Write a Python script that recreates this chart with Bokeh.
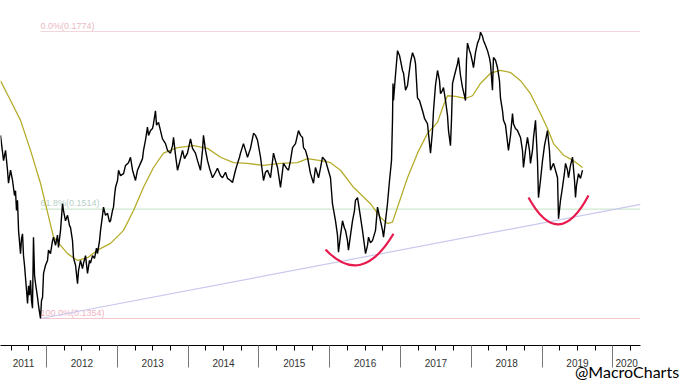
from bokeh.plotting import figure
from bokeh.models import (Range1d, LinearAxis, FixedTicker, CustomJSTickFormatter,
                          ColumnDataSource)
from bokeh.embed import file_html
from bokeh.resources import INLINE

# ---------------- data ----------------
years = list(range(2011, 2021))

price_t = [2011.350, 2011.393, 2011.421, 2011.449, 2011.463, 2011.492, 2011.520, 2011.548, 2011.562, 2011.576,
           2011.590, 2011.605, 2011.633, 2011.647, 2011.661, 2011.675, 2011.689, 2011.718, 2011.732, 2011.746,
           2011.760, 2011.774, 2011.788, 2011.802, 2011.816, 2011.831, 2011.845, 2011.859, 2011.873, 2011.887,
           2011.915, 2011.929, 2011.944, 2011.958, 2011.986, 2012.014, 2012.028, 2012.056, 2012.085, 2012.099,
           2012.127, 2012.155, 2012.169, 2012.198, 2012.226, 2012.240, 2012.268, 2012.297, 2012.325, 2012.339,
           2012.367, 2012.381, 2012.410, 2012.438, 2012.452, 2012.480, 2012.508, 2012.523, 2012.551, 2012.579,
           2012.607, 2012.621, 2012.650, 2012.678, 2012.706, 2012.720, 2012.749, 2012.763, 2012.791, 2012.805,
           2012.833, 2012.862, 2012.890, 2012.904, 2012.932, 2012.946, 2012.961, 2012.975, 2013.003, 2013.017,
           2013.045, 2013.088, 2013.116, 2013.158, 2013.186, 2013.215, 2013.257, 2013.285, 2013.327, 2013.356,
           2013.370, 2013.398, 2013.426, 2013.441, 2013.469, 2013.497, 2013.511, 2013.539, 2013.554, 2013.582,
           2013.610, 2013.638, 2013.681, 2013.709, 2013.751, 2013.780, 2013.794, 2013.822, 2013.850, 2013.878,
           2013.921, 2013.949, 2013.991, 2014.034, 2014.062, 2014.104, 2014.133, 2014.175, 2014.203, 2014.217,
           2014.246, 2014.274, 2014.302, 2014.345, 2014.387, 2014.415, 2014.458, 2014.486, 2014.528, 2014.557,
           2014.599, 2014.627, 2014.669, 2014.698, 2014.726, 2014.740, 2014.782, 2014.811, 2014.839, 2014.881,
           2014.924, 2014.952, 2014.980, 2015.023, 2015.065, 2015.093, 2015.121, 2015.164, 2015.206, 2015.234,
           2015.263, 2015.305, 2015.347, 2015.390, 2015.418, 2015.446, 2015.475, 2015.517, 2015.559, 2015.588,
           2015.616, 2015.630, 2015.658, 2015.686, 2015.729, 2015.771, 2015.799, 2015.842, 2015.870, 2015.898,
           2015.941, 2015.969, 2016.011, 2016.039, 2016.082, 2016.110, 2016.124, 2016.153, 2016.181, 2016.209,
           2016.223, 2016.251, 2016.265, 2016.294, 2016.322, 2016.350, 2016.364, 2016.393, 2016.421, 2016.463,
           2016.491, 2016.506, 2016.534, 2016.548, 2016.576, 2016.604, 2016.647, 2016.675, 2016.717, 2016.746,
           2016.760, 2016.788, 2016.816, 2016.845, 2016.873, 2016.887, 2016.894, 2016.901, 2016.929, 2016.958,
           2016.986, 2017.000, 2017.028, 2017.043, 2017.071, 2017.099, 2017.113, 2017.141, 2017.170, 2017.198,
           2017.212, 2017.240, 2017.268, 2017.311, 2017.339, 2017.381, 2017.424, 2017.452, 2017.466, 2017.494,
           2017.523, 2017.551, 2017.565, 2017.593, 2017.607, 2017.636, 2017.664, 2017.678, 2017.706, 2017.720,
           2017.735, 2017.763, 2017.805, 2017.819, 2017.847, 2017.876, 2017.904, 2017.918, 2017.932, 2017.946,
           2017.975, 2017.989, 2018.017, 2018.031, 2018.059, 2018.088, 2018.116, 2018.130, 2018.158, 2018.172,
           2018.200, 2018.229, 2018.257, 2018.271, 2018.299, 2018.313, 2018.342, 2018.370, 2018.398, 2018.412,
           2018.441, 2018.455, 2018.483, 2018.525, 2018.554, 2018.582, 2018.596, 2018.624, 2018.653, 2018.695,
           2018.723, 2018.737, 2018.766, 2018.794, 2018.822, 2018.836, 2018.864, 2018.879, 2018.907, 2018.935,
           2018.949, 2018.977, 2019.006, 2019.034, 2019.076, 2019.104, 2019.119, 2019.147, 2019.161, 2019.189,
           2019.218, 2019.232, 2019.260, 2019.288, 2019.317, 2019.331, 2019.359, 2019.373, 2019.401, 2019.430,
           2019.458, 2019.472, 2019.486, 2019.514, 2019.542, 2019.571]

price_v = [0.1622, 0.1585, 0.1600, 0.1571, 0.1552, 0.1571, 0.1556, 0.1534, 0.1541, 0.1512,
           0.1527, 0.1483, 0.1449, 0.1471, 0.1478, 0.1446, 0.1432, 0.1395, 0.1376, 0.1402,
           0.1388, 0.1410, 0.1380, 0.1369, 0.1473, 0.1417, 0.1405, 0.1395, 0.1385, 0.1373,
           0.1354, 0.1380, 0.1385, 0.1420, 0.1432, 0.1439, 0.1454, 0.1449, 0.1468, 0.1473,
           0.1461, 0.1476, 0.1458, 0.1483, 0.1522, 0.1512, 0.1497, 0.1505, 0.1490, 0.1487,
           0.1468, 0.1443, 0.1432, 0.1405, 0.1424, 0.1439, 0.1427, 0.1435, 0.1446, 0.1420,
           0.1439, 0.1435, 0.1446, 0.1442, 0.1457, 0.1449, 0.1468, 0.1483, 0.1505, 0.1517,
           0.1505, 0.1508, 0.1495, 0.1497, 0.1512, 0.1517, 0.1534, 0.1546, 0.1556, 0.1571,
           0.1563, 0.1566, 0.1578, 0.1582, 0.1590, 0.1571, 0.1556, 0.1571, 0.1581, 0.1588,
           0.1600, 0.1615, 0.1634, 0.1622, 0.1629, 0.1632, 0.1639, 0.1658, 0.1637, 0.1641,
           0.1629, 0.1617, 0.1610, 0.1600, 0.1596, 0.1607, 0.1619, 0.1593, 0.1571, 0.1582,
           0.1600, 0.1588, 0.1596, 0.1617, 0.1603, 0.1596, 0.1585, 0.1571, 0.1600, 0.1622,
           0.1600, 0.1585, 0.1574, 0.1560, 0.1568, 0.1574, 0.1563, 0.1560, 0.1568, 0.1559,
           0.1556, 0.1553, 0.1571, 0.1581, 0.1590, 0.1596, 0.1610, 0.1600, 0.1590, 0.1603,
           0.1625, 0.1622, 0.1615, 0.1590, 0.1556, 0.1568, 0.1571, 0.1560, 0.1596, 0.1585,
           0.1575, 0.1546, 0.1581, 0.1574, 0.1571, 0.1585, 0.1604, 0.1610, 0.1629, 0.1622,
           0.1619, 0.1604, 0.1600, 0.1590, 0.1566, 0.1552, 0.1575, 0.1560, 0.1574, 0.1590,
           0.1585, 0.1575, 0.1560, 0.1522, 0.1497, 0.1476, 0.1451, 0.1476, 0.1497, 0.1486,
           0.1483, 0.1468, 0.1454, 0.1476, 0.1497, 0.1512, 0.1527, 0.1531, 0.1512, 0.1483,
           0.1461, 0.1449, 0.1461, 0.1473, 0.1465, 0.1468, 0.1483, 0.1517, 0.1497, 0.1483,
           0.1473, 0.1497, 0.1522, 0.1556, 0.1585, 0.1644, 0.1698, 0.1673, 0.1710, 0.1746,
           0.1739, 0.1732, 0.1717, 0.1713, 0.1688, 0.1695, 0.1707, 0.1729, 0.1743, 0.1735,
           0.1727, 0.1677, 0.1673, 0.1658, 0.1647, 0.1639, 0.1596, 0.1629, 0.1658, 0.1695,
           0.1717, 0.1702, 0.1683, 0.1688, 0.1692, 0.1673, 0.1651, 0.1629, 0.1607, 0.1644,
           0.1698, 0.1710, 0.1727, 0.1736, 0.1710, 0.1692, 0.1680, 0.1673, 0.1732, 0.1757,
           0.1746, 0.1742, 0.1729, 0.1721, 0.1743, 0.1757, 0.1764, 0.1773, 0.1767, 0.1761,
           0.1754, 0.1746, 0.1735, 0.1727, 0.1688, 0.1736, 0.1732, 0.1721, 0.1702, 0.1677,
           0.1658, 0.1644, 0.1637, 0.1600, 0.1622, 0.1654, 0.1639, 0.1632, 0.1629, 0.1619,
           0.1600, 0.1575, 0.1600, 0.1619, 0.1600, 0.1581, 0.1600, 0.1619, 0.1644, 0.1585,
           0.1531, 0.1556, 0.1585, 0.1607, 0.1629, 0.1600, 0.1571, 0.1578, 0.1581, 0.1571,
           0.1560, 0.1500, 0.1527, 0.1546, 0.1568, 0.1581, 0.1571, 0.1560, 0.1578, 0.1590,
           0.1556, 0.1531, 0.1549, 0.1566, 0.1559, 0.1571]

ma_t = [2011.350, 2011.492, 2011.633, 2011.774, 2011.915, 2012.099, 2012.297, 2012.438, 2012.579, 2012.720,
        2012.904, 2013.088, 2013.229, 2013.370, 2013.511, 2013.652, 2013.850, 2014.076, 2014.274, 2014.458,
        2014.641, 2014.839, 2015.065, 2015.305, 2015.545, 2015.686, 2015.870, 2016.011, 2016.153, 2016.336,
        2016.576, 2016.717, 2016.816, 2016.887, 2016.958, 2017.099, 2017.240, 2017.381, 2017.523, 2017.607,
        2017.664, 2017.777, 2017.918, 2018.017, 2018.130, 2018.271, 2018.412, 2018.554, 2018.695, 2018.836,
        2018.977, 2019.076, 2019.161, 2019.302, 2019.443, 2019.571]
ma_v = [0.1702, 0.1673, 0.1644, 0.1600, 0.1552, 0.1473, 0.1449, 0.1439, 0.1443, 0.1454,
        0.1464, 0.1483, 0.1512, 0.1546, 0.1575, 0.1596, 0.1604, 0.1607, 0.1603, 0.1590,
        0.1582, 0.1581, 0.1578, 0.1581, 0.1582, 0.1588, 0.1585, 0.1582, 0.1571, 0.1546,
        0.1522, 0.1502, 0.1493, 0.1495, 0.1517, 0.1560, 0.1596, 0.1625, 0.1641, 0.1666,
        0.1680, 0.1679, 0.1676, 0.1680, 0.1698, 0.1713, 0.1717, 0.1714, 0.1702, 0.1683,
        0.1654, 0.1632, 0.1610, 0.1593, 0.1585, 0.1575]

fib_pcts = ["0.0%", "61.8%", "100.0%"]
fib_levels = [0.1774, 0.1514, 0.1354]
fib_line_colors = ["#f3d6dc", "#cfe8cf", "#f4c6ce"]
fib_text_colors = ["#ebb9c4", "#b7d0c6", "#efb4c2"]
fib_start = 2011.915      # date of the 100% low

trend_t = [2011.915, 2020.390]
trend_v = [0.1354, 0.1521]

arc_t0 = [2015.941, 2018.808]
arc_v0 = [0.1455, 0.1531]
arc_t1 = [2016.901, 2019.655]
arc_v1 = [0.1478, 0.1534]
arc_tc = [2016.449, 2019.232]
arc_vc = [0.1399, 0.1451]

watermark = "@MacroCharts"

x_start, x_end = 2011.350, 2020.390
y_start, y_end = 0.13145, 0.18194

# ---------------- figure ----------------
p = figure(width=680, height=383, output_backend="svg", toolbar_location=None,
           x_axis_location=None, y_axis_location=None,
           x_range=Range1d(x_start, x_end), y_range=Range1d(y_start, y_end),
           min_border_left=0, min_border_right=40, min_border_top=0, min_border_bottom=38)
p.outline_line_color = None
p.background_fill_color = "white"
p.border_fill_color = "white"
for g in p.grid:
    g.visible = False

# fibonacci levels
fib_src = ColumnDataSource(dict(
    x0=[fib_start] * len(fib_levels), x1=[x_end] * len(fib_levels), y=fib_levels,
    lc=fib_line_colors, tc=fib_text_colors,
    txt=[f"{pc}({lv:.4f})" for pc, lv in zip(fib_pcts, fib_levels)]))
p.segment(x0="x0", y0="y", x1="x1", y1="y", line_color="lc", line_width=1.2, source=fib_src)
p.text(x="x0", y="y", text="txt", text_color="tc", text_font_size="9px",
       text_font={"value": "Liberation Sans"}, text_baseline="bottom", text_align="left",
       y_offset=-1, source=fib_src)

# trend line
p.line(trend_t, trend_v, line_color="#c9c9ee", line_width=1.2)

# moving average
p.line(ma_t, ma_v, line_color="#b5ac2a", line_width=1.3)

# price
p.line(price_t, price_v, line_color="black", line_width=1.4)

# red arcs
p.quadratic(x0=arc_t0, y0=arc_v0, x1=arc_t1, y1=arc_v1, cx=arc_tc, cy=arc_vc,
            line_color="#e8194c", line_width=2.2)

# ---------------- axes ----------------
quarters = [y + q / 4 for y in years for q in (1, 2, 3)]
ax1 = LinearAxis(ticker=FixedTicker(ticks=years + [years[-1] + 1], minor_ticks=quarters),
                 formatter=CustomJSTickFormatter(code="return ''"),
                 major_tick_out=22, major_tick_in=0, minor_tick_out=5, minor_tick_in=0,
                 major_label_text_font_size="1px", major_label_standoff=0,
                 axis_line_color="black", axis_line_width=1,
                 major_tick_line_color="#777777", minor_tick_line_color="black")
p.add_layout(ax1, "below")

first_t = price_t[0]
label_pos = [(max(y, first_t) + min(y + 1, x_end)) / 2 for y in years]
ax2 = LinearAxis(ticker=FixedTicker(ticks=label_pos, minor_ticks=[]),
                 formatter=CustomJSTickFormatter(code="return Math.floor(tick).toString()"),
                 axis_line_color=None, major_tick_line_color=None, minor_tick_line_color=None,
                 major_tick_out=0, major_tick_in=0, minor_tick_out=0, minor_tick_in=0,
                 major_label_standoff=-9, major_label_text_font="Liberation Sans",
                 major_label_text_font_size="10px", major_label_text_color="#333333")
p.add_layout(ax2, "below")

# watermark as a one-label axis so it can sit in the bottom-right corner
ax3 = LinearAxis(ticker=FixedTicker(ticks=[x_end - 0.19], minor_ticks=[]),
                 formatter=CustomJSTickFormatter(code=f"return '{watermark}'"),
                 axis_line_color=None, major_tick_line_color=None, minor_tick_line_color=None,
                 major_tick_out=0, major_tick_in=0, minor_tick_out=0, minor_tick_in=0,
                 major_label_standoff=-8, major_label_text_font="Lato",
                 major_label_text_font_size="16px", major_label_text_color="black")
p.add_layout(ax3, "below")

open("out.html", "w").write(file_html(p, INLINE))
